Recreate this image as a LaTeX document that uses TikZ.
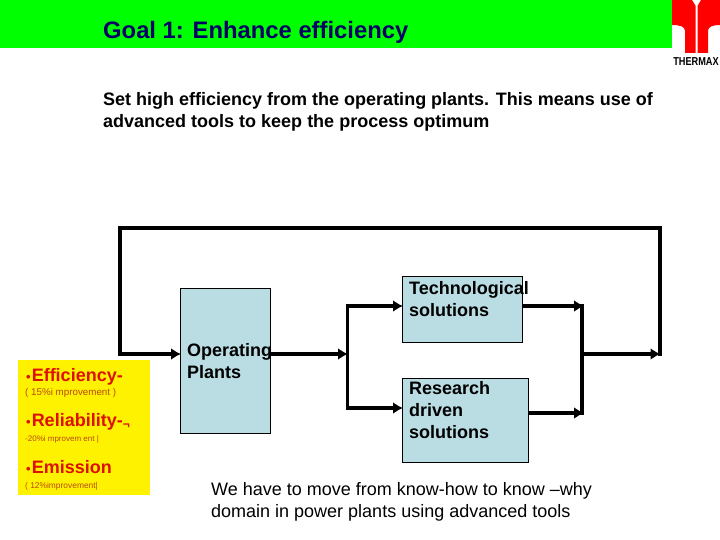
\documentclass[tikz,border=0pt]{standalone}
\usepackage{fontspec}
\setmainfont{Liberation Sans}
\usetikzlibrary{arrows.meta}
\definecolor{boxblue}{HTML}{B9DDE3}
\definecolor{logored}{HTML}{FF0000}
\definecolor{yellowred}{HTML}{DD1100}
\definecolor{smallred}{HTML}{B84A10}
\definecolor{titleblue}{HTML}{000066}
\tikzset{
  x=1pt,y=-1pt,
  box/.style={draw=black,line width=1pt,fill=boxblue,anchor=north west,inner sep=0pt,outer sep=0pt},
  txt/.style={anchor=north west,inner sep=0pt,align=left,text=black,font=\fontsize{18}{22}\selectfont},
  boldtxt/.style={txt,font=\fontsize{18}{22}\selectfont\bfseries},
  flow/.style={draw=black,line width=3.6pt,-{Latex[length=10pt,width=12pt]},shorten >=-0.5pt},
  line/.style={draw=black,line width=3.6pt},
  big/.style={anchor=west,inner sep=0pt,text=yellowred,font=\fontsize{18}{20}\selectfont\bfseries},
  small/.style={anchor=west,inner sep=0pt,text=smallred,font=\fontsize{9.8}{10}\selectfont},
}
\newcommand{\panelbullet}{{\fontsize{13}{13}\selectfont\textbullet}\kern1pt}
\begin{document}
\begin{tikzpicture}
\useasboundingbox (0,0) rectangle (720,540);
\fill[green] (0,0) rectangle (672,48.5);
\node[txt,font=\fontsize{23.8}{26}\selectfont\bfseries,text=titleblue,anchor=west] (title) at (103,32.5) {Goal 1: Enhance efficiency};
% logo
\fill[logored] (672,0) -- (692,0) -- (695.7,6) -- (695.7,53) -- (685,53) -- (685,31) .. controls (685,26.5) and (680,25) .. (672,25) -- cycle;
\fill[logored] (720,0) -- (701,0) -- (697.5,6) -- (697.5,53) -- (708,53) -- (708,31) .. controls (708,26.5) and (713,25) .. (720,25) -- cycle;
\node[anchor=center,inner sep=0pt,font=\fontsize{11.5}{12}\selectfont\bfseries,xscale=0.8] (brand) at (696,62) {THERMAX};
\node[boldtxt] (intro) at (103,92) {Set high efficiency from the operating plants. This means use of\\advanced tools to keep the process optimum};
% yellow panel
\node[anchor=north west,fill=yellow,minimum width=132pt,minimum height=135pt,inner sep=0pt,outer sep=0pt] (panel) at (18,360) {};
\node[big] (a1) at (26,376.5) {\panelbullet Efficiency-};
\node[small] (a2) at (25,392.5) {( 15\%i mprovement )};
\node[big] (b1) at (26,421.5) {\panelbullet Reliability-\raisebox{-2pt}{\fontsize{12}{12}\selectfont ¬}};
\node[small,font=\fontsize{8}{10}\selectfont] (b2) at (25,439) {-20\%i mprovem ent |};
\node[big] (c1) at (26,467) {\panelbullet Emission};
\node[small,font=\fontsize{8.4}{10}\selectfont] (c2) at (25,486) {( 12\%improvement|};
% boxes
\node[box,minimum width=90pt,minimum height=145pt] (plant) at (180.5,288.5) {};
\node[box,minimum width=120pt,minimum height=66pt] (tech) at (402.5,276.5) {};
\node[box,minimum width=126pt,minimum height=84pt] (res) at (402.5,378.5) {};
\node[boldtxt] (plantt) at (187,343) {Operating\\Plants};
\node[boldtxt] (techt) at (409,281) {Technological\\solutions};
\node[boldtxt] (rest) at (409,381) {Research\\driven\\solutions};
\node[txt] (foot) at (211,482) {We have to move from know-how to know --why\\domain in power plants using advanced tools};
% connector junctions
\coordinate (split) at (347.5,354);
\coordinate (splitT) at (347.5,306);
\coordinate (splitR) at (347.5,408);
\coordinate (merge) at (582,354);
\coordinate (mergeT) at (583.5,306);
\coordinate (mergeR) at (583.5,413);
\coordinate (back) at (660,354);
\coordinate (tr) at (660,228);
\coordinate (tl) at (120,228);
\coordinate (bl) at (120,354);
% connectors
\draw[flow] (plant.east |- split) -- (split);
\draw[line,line cap=rect] (splitT) -- (splitR);
\draw[flow] (splitT) -- (tech.west |- splitT);
\draw[flow] (splitR) -- (res.west |- splitR);
\draw[flow] (tech.east |- mergeT) -- (mergeT);
\draw[flow] (res.east |- mergeR) -- (mergeR);
\draw[line,line cap=rect] (mergeT -| merge) -- (mergeR -| merge);
\draw[flow] (merge) -- (back);
\draw[flow,line join=miter,line cap=rect] (back) -- (tr) -- (tl) -- (bl) -- (plant.west |- bl);
\end{tikzpicture}
\end{document}
